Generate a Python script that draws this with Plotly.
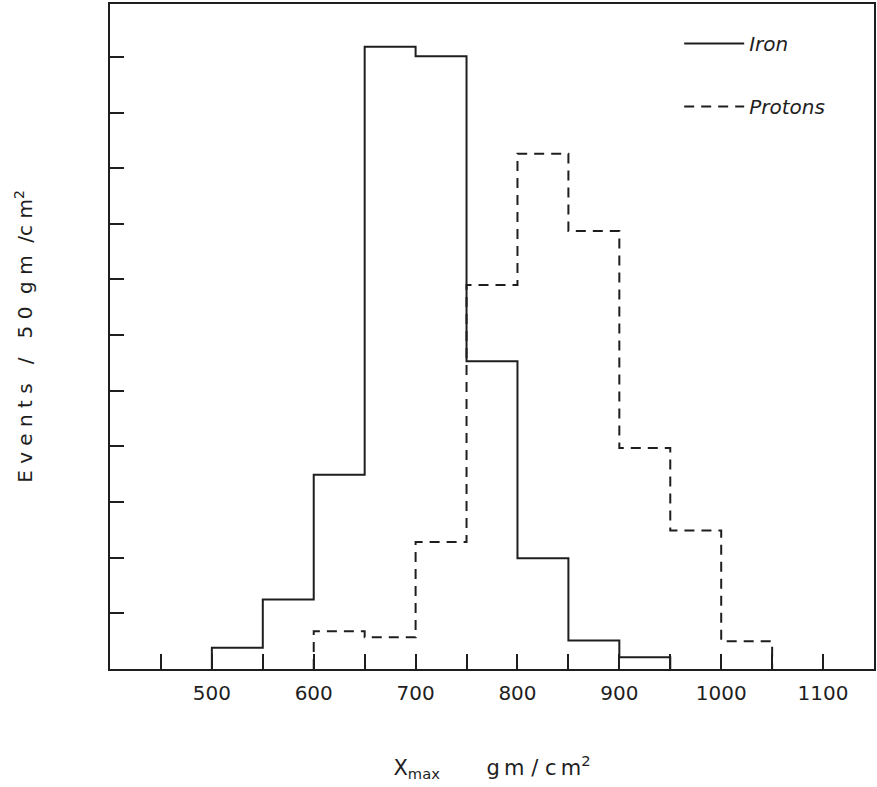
import plotly.graph_objects as go

# Bin edges (gm/cm^2) and events per 50 gm/cm^2
iron_edges = [500, 550, 600, 650, 700, 750, 800, 850, 900, 950]
iron_counts = [0.38, 1.25, 3.49, 11.18, 11.01, 5.53, 1.99, 0.51, 0.21]

proton_edges = [600, 650, 700, 750, 800, 850, 900, 950, 1000, 1050]
proton_counts = [0.68, 0.57, 2.28, 6.90, 9.26, 7.87, 3.97, 2.49, 0.50]

x_tickvals = [500, 600, 700, 800, 900, 1000, 1100]
x_ticktext = ["500", "600", "700", "800", "900", "1000", "1100"]


def step_xy(edges, counts):
    xs = [edges[0]] + list(edges)
    ys = [0] + list(counts) + [0]
    return xs, ys


ink = "#1e1e1e"
fig = go.Figure()
xi, yi = step_xy(iron_edges, iron_counts)
fig.add_trace(go.Scatter(x=xi, y=yi, mode="lines", line=dict(shape="hv", color=ink, width=2),
                         name="<i>Iron</i>", legendgroup="a"))
xp, yp = step_xy(proton_edges, proton_counts)
fig.add_trace(go.Scatter(x=xp, y=yp, mode="lines",
                         line=dict(shape="hv", color=ink, width=2, dash="10px,7px"),
                         name="<i>Protons</i>", legendgroup="b"))

sp = " "
ytitle = sp.join("Events") + "   /   " + sp.join("50") + "  " + sp.join("gm") + "  /" + sp.join("cm") + "<sup>2</sup>"
xtitle = "X<sub>max</sub>       " + "\u2009".join("gm") + " / " + "\u2009".join("cm") + "<sup>2</sup>"

fig.update_layout(
    width=877, height=787,
    margin=dict(l=110, r=1, t=4, b=118),
    paper_bgcolor="white", plot_bgcolor="white",
    font=dict(family="DejaVu Sans", color=ink),
    showlegend=True,
    legend=dict(x=0.745, y=0.97, xanchor="left", yanchor="top",
                bgcolor="rgba(0,0,0,0)", font=dict(size=20, family="DejaVu Sans"),
                itemwidth=60, tracegroupgap=34, traceorder="grouped"),
    xaxis=dict(range=[400, 1150], tickvals=x_tickvals, ticktext=x_ticktext,
               ticks="inside", ticklen=15, tickwidth=1.5, tickcolor=ink,
               minor=dict(ticks="inside", ticklen=15, tickwidth=1.5, tickcolor=ink,
                          tick0=450, dtick=50, showgrid=False),
               showline=True, linewidth=2, linecolor=ink, mirror=True,
               showgrid=False, zeroline=False,
               tickfont=dict(size=20), ticklabelstandoff=5,
               title=dict(text=xtitle, font=dict(size=21), standoff=56)),
    yaxis=dict(range=[0, 11.95], dtick=1, tick0=0, showticklabels=False,
               ticks="inside", ticklen=14, tickwidth=1.5, tickcolor=ink,
               showline=True, linewidth=2, linecolor=ink, mirror=True,
               showgrid=False, zeroline=False,
               title=dict(text=ytitle, font=dict(size=20), standoff=70)),
)

fig.write_html("out.html")
